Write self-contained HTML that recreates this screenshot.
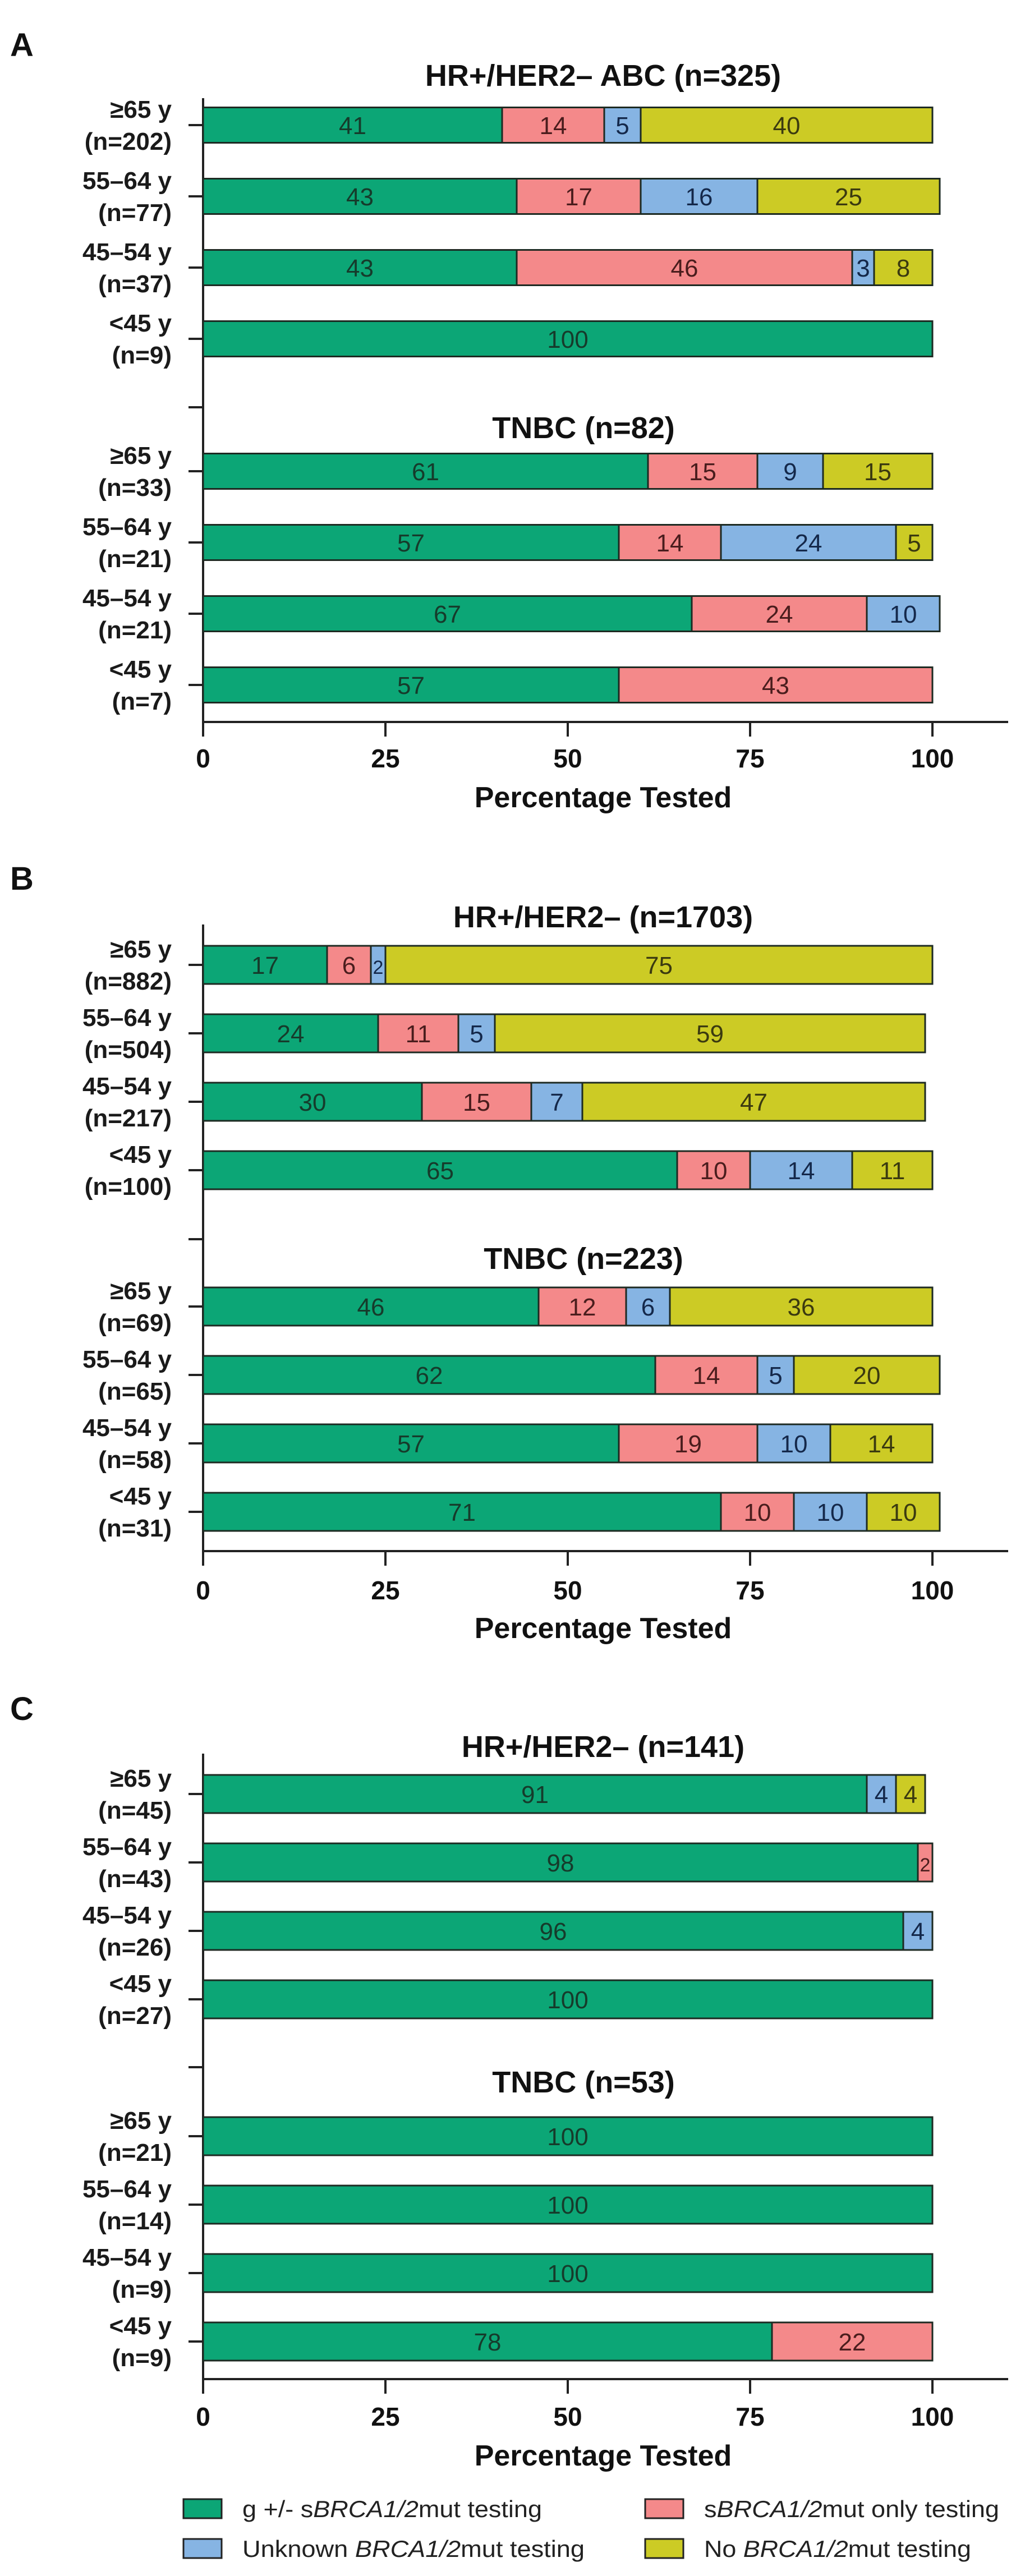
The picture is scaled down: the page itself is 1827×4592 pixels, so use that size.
<!DOCTYPE html>
<html><head><meta charset="utf-8"><style>
html,body{margin:0;padding:0;background:#fff;}
svg{display:block;}
text{font-family:"Liberation Sans",sans-serif;}
</style></head><body>
<svg id="chart" width="1827" height="4592" viewBox="0 0 1827 4592" xmlns="http://www.w3.org/2000/svg"></svg>
<script>
// ---- data ----
const ageLabels = ["≥65 y","55–64 y","45–54 y","<45 y"];
const seriesNames = ["g +/- sBRCA1/2mut testing","sBRCA1/2mut only testing","Unknown BRCA1/2mut testing","No BRCA1/2mut testing"];
const xTicks = [0,25,50,75,100];

const aHrTitle = "HR+/HER2– ABC (n=325)";
const aHrN = ["(n=202)","(n=77)","(n=37)","(n=9)"];
const aHrGplus = [41,43,43,100];
const aHrSonly = [14,17,46,0];
const aHrUnknown = [5,16,3,0];
const aHrNone = [40,25,8,0];
const aTnTitle = "TNBC (n=82)";
const aTnN = ["(n=33)","(n=21)","(n=21)","(n=7)"];
const aTnGplus = [61,57,67,57];
const aTnSonly = [15,14,24,43];
const aTnUnknown = [9,24,10,0];
const aTnNone = [15,5,0,0];

const bHrTitle = "HR+/HER2– (n=1703)";
const bHrN = ["(n=882)","(n=504)","(n=217)","(n=100)"];
const bHrGplus = [17,24,30,65];
const bHrSonly = [6,11,15,10];
const bHrUnknown = [2,5,7,14];
const bHrNone = [75,59,47,11];
const bTnTitle = "TNBC (n=223)";
const bTnN = ["(n=69)","(n=65)","(n=58)","(n=31)"];
const bTnGplus = [46,62,57,71];
const bTnSonly = [12,14,19,10];
const bTnUnknown = [6,5,10,10];
const bTnNone = [36,20,14,10];

const cHrTitle = "HR+/HER2– (n=141)";
const cHrN = ["(n=45)","(n=43)","(n=26)","(n=27)"];
const cHrGplus = [91,98,96,100];
const cHrSonly = [0,2,0,0];
const cHrUnknown = [4,0,4,0];
const cHrNone = [4,0,0,0];
const cTnTitle = "TNBC (n=53)";
const cTnN = ["(n=21)","(n=14)","(n=9)","(n=9)"];
const cTnGplus = [100,100,100,78];
const cTnSonly = [0,0,0,22];
const cTnUnknown = [0,0,0,0];
const cTnNone = [0,0,0,0];

// ---- styles ----
const fills = ["#0ca676","#f4898a","#86b4e3","#cccb25"];
const inks = ["#163b2b","#4a1d1d","#14284a","#3b3a10"];
const NS = "http://www.w3.org/2000/svg";
const svg = document.getElementById("chart");
const X0 = 362, XW = 1300;
function xScale(v){ return X0 + v/100*XW; }
function mk(tag, attrs, parent){
  const e = document.createElementNS(NS, tag);
  for (const k in attrs) e.setAttribute(k, attrs[k]);
  (parent||svg).appendChild(e);
  return e;
}
function txt(s, attrs, parent){ const t = mk("text", attrs, parent); t.textContent = s; return t; }

const panels = [
  {id:"a", letter:"A", letterY:100, hrTitle:aHrTitle, tnTitle:aTnTitle, hrN:aHrN, tnN:aTnN,
   hr:[aHrGplus,aHrSonly,aHrUnknown,aHrNone], tn:[aTnGplus,aTnSonly,aTnUnknown,aTnNone],
   hrY0:223, tnY0:840, step:127, barH:63, sepY:726, hrTitleY:153, tnTitleY:781, axisTop:175, axisY:1287, tickY:1368, xTitleY:1439},
  {id:"b", letter:"B", letterY:1586, hrTitle:bHrTitle, tnTitle:bTnTitle, hrN:bHrN, tnN:bTnN,
   hr:[bHrGplus,bHrSonly,bHrUnknown,bHrNone], tn:[bTnGplus,bTnSonly,bTnUnknown,bTnNone],
   hrY0:1720, tnY0:2329, step:122, barH:68, sepY:2209, hrTitleY:1653, tnTitleY:2262, axisTop:1648, axisY:2765, tickY:2851, xTitleY:2920},
  {id:"c", letter:"C", letterY:3066, hrTitle:cHrTitle, tnTitle:cTnTitle, hrN:cHrN, tnN:cTnN,
   hr:[cHrGplus,cHrSonly,cHrUnknown,cHrNone], tn:[cTnGplus,cTnSonly,cTnUnknown,cTnNone],
   hrY0:3198, tnY0:3808, step:122, barH:68, sepY:3685, hrTitleY:3132, tnTitleY:3730, axisTop:3126, axisY:4241, tickY:4324, xTitleY:4395}
];

function drawGroup(p, g, series, nLabels, y0, grp){
  for (let r=0; r<4; r++){
    const cy = y0 + r*p.step;
    const row = mk("g", {}, g);
    
    
    // y labels
    const l1 = txt(ageLabels[r], {x:306, y:cy-13, "text-anchor":"end", "font-size":44, "font-weight":"bold", fill:"#1a1a1a"}, g);
    
    
    const l2 = txt(nLabels[r], {x:306, y:cy+44, "text-anchor":"end", "font-size":44, "font-weight":"bold", fill:"#1a1a1a"}, g);
    
    
    mk("line", {x1:336, x2:X0, y1:cy, y2:cy, stroke:"#222", "stroke-width":4}, g);
    let acc = 0;
    for (let s=0; s<4; s++){
      const v = series[s][r];
      if (!v) continue;
      const xa = xScale(acc), xb = xScale(acc+v);
      const rect = mk("rect", {x:xa, y:cy-p.barH/2, width:xb-xa, height:p.barH, fill:fills[s], stroke:"#1d2a22", "stroke-width":3}, row);
      
      
      const t = txt(String(v), {x:(xa+xb)/2, y:cy+16, "text-anchor":"middle", "font-size":44, fill:inks[s]}, row);
      if (v < 3) t.setAttribute("font-size", 34);
      
      
      acc += v;
    }
  }
}

panels.forEach(p => {
  const g = mk("g", {});
  
  
  const L = txt(p.letter, {x:18, y:p.letterY, "font-size":58, "font-weight":"bold", fill:"#111"}, g);
  
  
  const t1 = txt(p.hrTitle, {x:1075, y:p.hrTitleY, "text-anchor":"middle", "font-size":54, "font-weight":"bold", fill:"#111"}, g);
  
  
  const t2 = txt(p.tnTitle, {x:1040, y:p.tnTitleY, "text-anchor":"middle", "font-size":54, "font-weight":"bold", fill:"#111"}, g);
  
  
  // axes
  const ya = mk("line", {x1:X0, x2:X0, y1:p.axisTop, y2:p.axisY, stroke:"#222", "stroke-width":4}, g);
  
  
  mk("line", {x1:336, x2:X0, y1:p.sepY, y2:p.sepY, stroke:"#222", "stroke-width":4}, g);
  const xa = mk("line", {x1:X0-2, x2:1797, y1:p.axisY, y2:p.axisY, stroke:"#222", "stroke-width":4}, g);
  
  
  xTicks.forEach(v => {
    mk("line", {x1:xScale(v), x2:xScale(v), y1:p.axisY, y2:p.axisY+26, stroke:"#222", "stroke-width":4}, g);
    const tl = txt(String(v), {x:xScale(v), y:p.tickY, "text-anchor":"middle", "font-size":46, "font-weight":"bold", fill:"#111"}, g);
    
    
  });
  const xt = txt("Percentage Tested", {x:1075, y:p.xTitleY, "text-anchor":"middle", "font-size":52, "font-weight":"bold", fill:"#111"}, g);
  
  
  drawGroup(p, g, p.hr, p.hrN, p.hrY0, "hr");
  drawGroup(p, g, p.tn, p.tnN, p.tnY0, "tnbc");
});

// legend
const lg = mk("g", {});


const legendPos = [[327,4472,534],[1150,4472,526],[327,4543,610],[1150,4543,476]];
const legendOrder = [0,1,2,3];
const legendHtml = [
  ['g +/- s','BRCA1/2','mut testing'],
  ['s','BRCA1/2','mut only testing'],
  ['Unknown ','BRCA1/2','mut testing'],
  ['No ','BRCA1/2','mut testing']
];
legendOrder.forEach((s,i) => {
  const [lx, ly, tw] = legendPos[i];
  const e = mk("g", {}, lg);
  
  
  mk("rect", {x:lx, y:ly-17, width:68, height:34, fill:fills[s], stroke:"#222", "stroke-width":3}, e);
  const t = mk("text", {x:lx+105, y:ly+15, "font-size":42, fill:"#222", textLength:tw, lengthAdjust:"spacingAndGlyphs"}, e);
  legendHtml[s].forEach((part, k) => {
    const sp = mk("tspan", k===1 ? {"font-style":"italic"} : {}, t);
    sp.textContent = part;
  });
});
</script>
</body></html>
